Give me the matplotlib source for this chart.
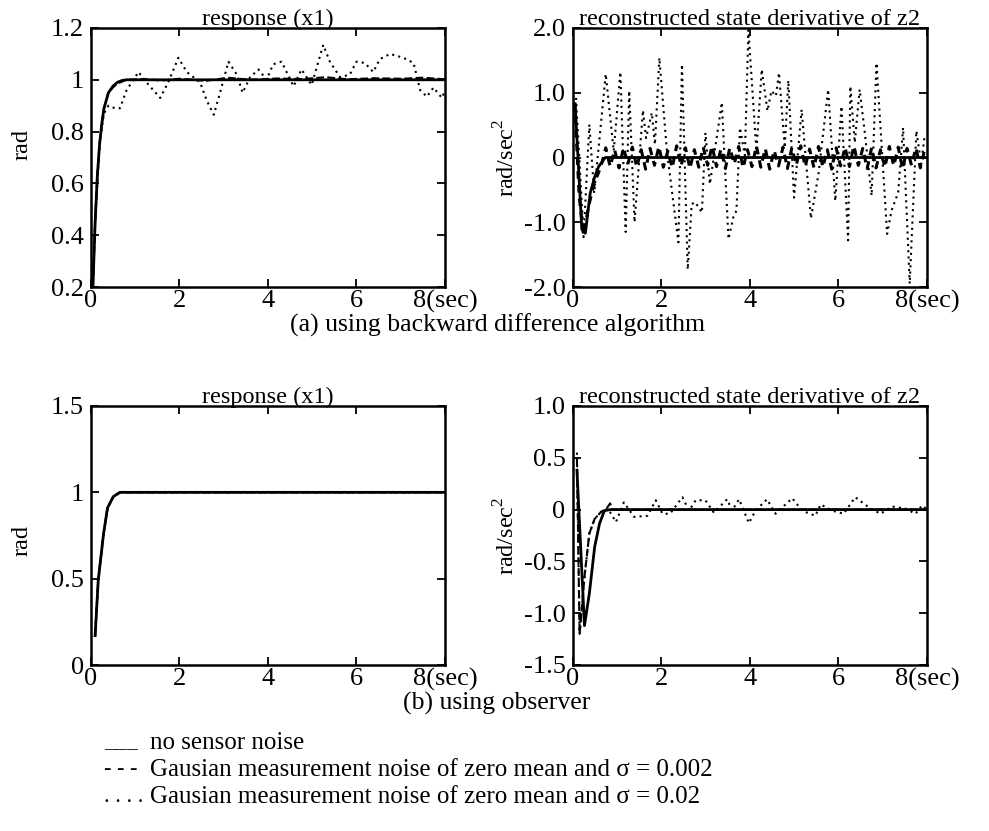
import matplotlib
matplotlib.use("Agg")
import matplotlib.pyplot as plt
import numpy as np

plt.rcParams['font.family'] = ['Liberation Serif', 'DejaVu Serif']
plt.rcParams['font.size'] = 17
plt.rcParams['mathtext.fontset'] = 'custom'
plt.rcParams['mathtext.rm'] = 'Liberation Serif'

# ---- (a) backward difference: response x1 ----
a_x1_t = [0.05, 0.1, 0.15, 0.2, 0.25, 0.3, 0.4, 0.5, 0.6, 0.7, 0.8, 1.0, 8.0]
a_x1_clean = [0.2, 0.45, 0.63, 0.75, 0.83, 0.89, 0.95, 0.975, 0.99, 0.997, 1.0, 1.0, 1.0]
a_x1_small_t = [0.05, 0.1, 0.15, 0.2, 0.25, 0.3, 0.4, 0.5, 0.6, 0.8, 1.2, 1.6, 2.0, 2.6, 3.1,
                3.6, 4.2, 4.8, 5.3, 5.8, 6.4, 7.0, 7.5, 8.0]
a_x1_small = [0.2, 0.45, 0.63, 0.75, 0.83, 0.89, 0.95, 0.97, 0.985, 1.0, 1.003, 0.997, 1.004,
              0.996, 1.008, 1.0, 1.005, 1.003, 1.01, 1.002, 1.006, 1.004, 1.008, 1.002]
a_x1_large_t = [0.05, 0.1, 0.2, 0.3, 0.4, 0.55, 0.66, 0.81, 1.08, 1.26, 1.57, 1.75, 1.98, 2.17,
                2.47, 2.62, 2.78, 2.92, 3.11, 3.30, 3.43, 3.60, 3.79, 3.97, 4.12, 4.31, 4.58,
                4.76, 4.99, 5.25, 5.40, 5.63, 5.85, 6.00, 6.19, 6.38, 6.53, 6.76, 7.06, 7.29,
                7.44, 7.59, 7.74, 7.93, 8.0]
a_x1_large = [0.2, 0.45, 0.75, 0.87, 0.9, 0.89, 0.89, 0.96, 1.03, 0.99, 0.93, 0.99, 1.085, 1.03,
              0.99, 0.92, 0.865, 0.95, 1.07, 1.02, 0.95, 1.01, 1.04, 1.0, 1.06, 1.07, 0.975,
              1.04, 0.98, 1.135, 1.07, 1.01, 1.02, 1.07, 1.065, 1.03, 1.08, 1.1, 1.085, 1.065,
              0.96, 0.935, 0.97, 0.93, 0.96]

# ---- (a) backward difference: derivative of z2 ----
a_z2_t = [0.06, 0.21, 0.29, 0.4, 0.5, 0.59, 0.74, 0.9, 8.0]
a_z2_clean = [0.82, -1.11, -1.17, -0.55, -0.3, -0.14, 0.0, 0.0, 0.0]
a_z2_small = [0.85, -0.60, -1.20, -0.80, -0.50, -0.30, -0.12, 0.15, -0.14, 0.12,
              -0.16, 0.15, -0.10, 0.16, -0.15, 0.12, -0.18, 0.14, -0.12, 0.17,
              -0.15, 0.10, -0.16, 0.18, -0.13, 0.15, -0.17, 0.12, -0.15, 0.16,
              -0.12, 0.18, -0.14, 0.13, -0.17, 0.15, -0.10, 0.17, -0.16, 0.12,
              -0.14, 0.18, -0.15, 0.14, -0.18, 0.11, -0.13, 0.16, -0.17, 0.15,
              -0.12, 0.18, -0.14, 0.13, -0.16, 0.17, -0.15, 0.12, -0.18, 0.15,
              -0.13, 0.16, -0.14, 0.18, -0.12, 0.14, -0.17, 0.15, -0.16, 0.12,
              -0.15, 0.17, -0.13, 0.16, -0.18, 0.14, -0.12, 0.15, -0.16, 0.13]
a_z2_small_t = 0.05 + 0.1 * np.arange(len(a_z2_small))  # sampled every 0.1 s
a_z2_large_t = [0.08, 0.25, 0.38, 0.49, 0.75, 0.93, 1.08, 1.2, 1.28, 1.4, 1.59, 1.66, 1.79,
                1.86, 1.96, 2.13, 2.39, 2.47, 2.6, 2.69, 2.77, 2.92, 3.0, 3.1, 3.37, 3.52,
                3.63, 3.7, 3.78, 3.89, 3.97, 4.15, 4.27, 4.4, 4.49, 4.59, 4.66, 4.79, 4.87,
                5.0, 5.17, 5.38, 5.55, 5.77, 5.93, 6.07, 6.22, 6.27, 6.37, 6.48, 6.6, 6.75,
                6.86, 7.1, 7.2, 7.35, 7.46, 7.61, 7.76, 7.87, 7.95]
a_z2_large = [0.92, -1.23, 0.51, -0.55, 1.29, 0.1, 1.32, -1.15, 1.03, -1.0, 0.73, 0.3, 0.69,
              0.2, 1.54, 0.1, -1.31, 1.44, -1.73, -0.72, -0.69, -0.85, 0.38, -0.41, 0.85,
              -1.26, -0.92, -0.82, 0.46, 0.03, 1.97, 0.1, 1.36, 0.72, 1.03, 0.95, 1.31, 0.15,
              1.19, -0.62, 0.74, -0.94, -0.26, 1.05, -0.67, 0.79, -1.28, 1.1, 0.23, 1.05, 0.36,
              -0.59, 1.46, -1.18, -0.82, -0.54, 0.46, -1.95, 0.41, -0.1, 0.36]

# ---- (b) observer: response x1 ----
b_x1_t = [0.1, 0.17, 0.29, 0.38, 0.51, 0.66, 0.8, 8.0]
b_x1 = [0.17, 0.49, 0.76, 0.91, 0.975, 1.0, 1.0, 1.0]

# ---- (b) observer: derivative of z2 ----
b_z2_t = [0.1, 0.27, 0.38, 0.5, 0.61, 0.72, 0.85, 8.0]
b_z2_clean = [0.38, -1.12, -0.81, -0.36, -0.135, -0.01, 0.0, 0.0]
b_z2_small_t = [0.1, 0.16, 0.27, 0.38, 0.5, 0.65, 0.75, 0.85, 0.9, 8.0]
b_z2_small = [0.5, -1.2, -0.65, -0.23, -0.09, -0.02, 0.0, 0.06, 0.0, 0.0]
b_z2_large_t = [0.1, 0.16, 0.27, 0.38, 0.5, 0.65, 0.8, 0.98, 1.16, 1.39, 1.69, 1.88, 2.03, 2.2,
                2.48, 2.63, 2.78, 3.0, 3.19, 3.49, 3.6, 3.76, 3.98, 4.13, 4.39, 4.58, 4.96,
                5.18, 5.48, 5.6, 5.86, 6.12, 6.38, 6.69, 6.95, 7.21, 7.51, 7.74, 7.89, 8.0]
b_z2_large = [0.55, -1.2, -0.65, -0.23, -0.09, -0.02, 0.01, -0.12, 0.07, -0.07, -0.06, 0.09,
              -0.04, -0.04, 0.12, -0.01, 0.09, 0.09, -0.03, 0.1, -0.01, 0.1, -0.13, -0.01, 0.1,
              -0.04, 0.11, -0.01, -0.06, 0.05, -0.01, -0.04, 0.12, 0.02, -0.04, 0.03, 0.01,
              -0.04, 0.04, 0.0]

x_ticks = [0, 2, 4, 6, 8]
x_ticklabels = ['0', '2', '4', '6', '8(sec)']

fig = plt.figure(figsize=(9.89, 8.31), dpi=100)
W, H = 989, 831


def make_axes(left, top, right, bottom):
    return fig.add_axes([left / W, 1 - bottom / H, (right - left) / W, (bottom - top) / H])


def style(ax, yticks, ylabels, ylim, title, ylabel, label_xy):
    ax.set_xlim(0, 8)
    ax.set_ylim(*ylim)
    ax.set_xticks(x_ticks)
    ax.set_xticklabels(x_ticklabels)
    ax.set_yticks(yticks)
    ax.set_yticklabels(ylabels)
    ax.tick_params(direction='in', length=6, width=1.3, top=True, right=True,
                   labelsize=19)
    ax.tick_params(axis='y', pad=5)
    ax.tick_params(axis='x', pad=2)
    for s in ax.spines.values():
        s.set_linewidth(1.8)
    ax.set_title(title, fontsize=17.5, pad=2)
    ax.set_ylabel(ylabel, fontsize=17.5)
    ax.yaxis.set_label_coords(*label_xy)


lw_s, lw_d, lw_p = 2.0, 1.5, 1.5
dots = (0, (1, 2))

ax1 = make_axes(90.7, 28, 445, 287)
ax1.plot(a_x1_large_t, a_x1_large, color='black', linestyle=dots, linewidth=lw_p)
ax1.plot(a_x1_small_t, a_x1_small, color='black', linestyle='--', linewidth=lw_d)
ax1.plot(a_x1_t, a_x1_clean, color='black', linewidth=lw_s)
style(ax1, [0.2, 0.4, 0.6, 0.8, 1.0, 1.2], ['0.2', '0.4', '0.6', '0.8', '1', '1.2'],
      (0.2, 1.2), 'response (x1)', 'rad', (-0.165, 0.55))

ax2 = make_axes(572.5, 28, 927, 287)
ax2.plot(a_z2_large_t, a_z2_large, color='black', linestyle=dots, linewidth=lw_p)
ax2.plot(a_z2_small_t, a_z2_small, color='black', linestyle=(0, (2.5, 2)), linewidth=2.2)
ax2.plot(a_z2_t, a_z2_clean, color='black', linewidth=lw_s)
style(ax2, [-2, -1, 0, 1, 2], ['-2.0', '-1.0', '0', '1.0', '2.0'],
      (-2, 2), 'reconstructed state derivative of z2', 'rad/sec$^2$', (-0.15, 0.5))

ax3 = make_axes(90.7, 406, 445, 665)
ax3.plot(b_x1_t, b_x1, color='black', linestyle=dots, linewidth=lw_p)
ax3.plot(b_x1_t, b_x1, color='black', linestyle='--', linewidth=lw_d)
ax3.plot(b_x1_t, b_x1, color='black', linewidth=lw_s)
style(ax3, [0, 0.5, 1.0, 1.5], ['0', '0.5', '1', '1.5'],
      (0, 1.5), 'response (x1)', 'rad', (-0.165, 0.48))

ax4 = make_axes(572.5, 406, 927, 665)
ax4.plot(b_z2_large_t, b_z2_large, color='black', linestyle=dots, linewidth=lw_p)
ax4.plot(b_z2_small_t, b_z2_small, color='black', linestyle='--', linewidth=lw_d)
ax4.plot(b_z2_t, b_z2_clean, color='black', linewidth=lw_s)
style(ax4, [-1.5, -1.0, -0.5, 0, 0.5, 1.0], ['-1.5', '-1.0', '-0.5', '0', '0.5', '1.0'],
      (-1.5, 1.0), 'reconstructed state derivative of z2', 'rad/sec$^2$', (-0.15, 0.5))

fig.text(497 / W, 1 - 325 / H, '(a) using backward difference algorithm',
         ha='center', va='center', fontsize=18.5)
fig.text(497 / W, 1 - 703 / H, '(b) using observer', ha='center', va='center', fontsize=18.5)

legend_rows = [
    ('___', 'no sensor noise'),
    ('- - -', 'Gausian measurement noise of zero mean and σ = 0.002'),
    ('. . . .', 'Gausian measurement noise of zero mean and σ = 0.02'),
]
for i, (mark, label) in enumerate(legend_rows):
    y = 1 - (743 + 27 * i) / H
    fig.text(104 / W, y, mark, ha='left', va='center', fontsize=16)
    fig.text(150 / W, y, label, ha='left', va='center', fontsize=18)

fig.savefig('out.png', dpi=100)
